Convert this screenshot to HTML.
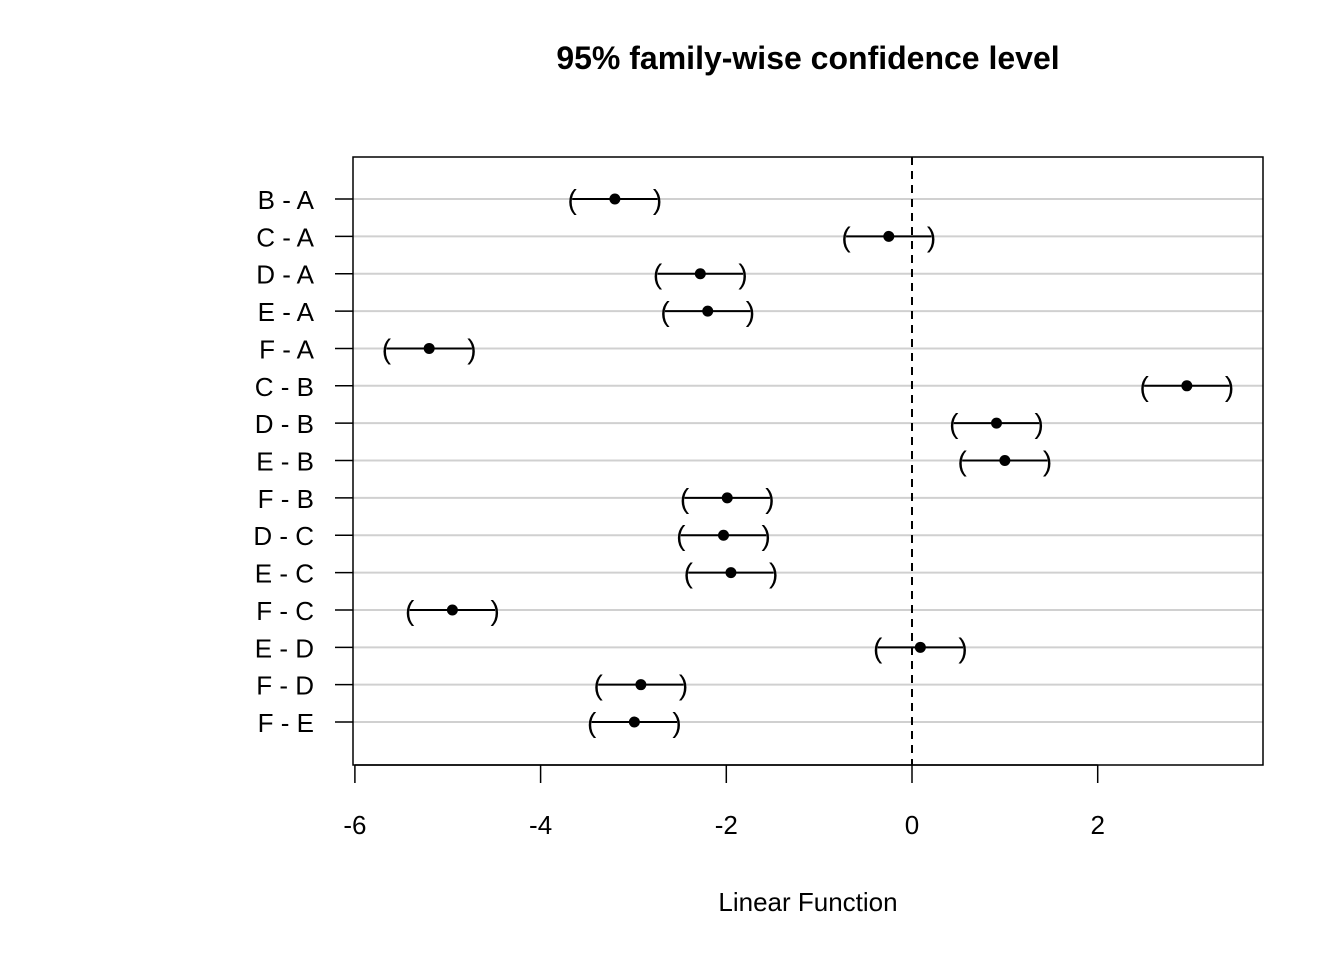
<!DOCTYPE html>
<html><head><meta charset="utf-8"><style>
body{margin:0;background:#fff}
svg text{font-family:"Liberation Sans",Arial,sans-serif;fill:#000}
</style></head><body>
<svg id="chart" width="1344" height="960" xmlns="http://www.w3.org/2000/svg">
<text x="808" y="69" text-anchor="middle" font-size="32" font-weight="bold">95% family-wise confidence level</text>
<g id="grid"></g>
<g id="marks"></g>
<rect x="353" y="157" width="910" height="608" fill="none" stroke="#000" stroke-width="1.5"/>
<g id="axes"></g>
<text x="808" y="911" text-anchor="middle" font-size="26">Linear Function</text>
</svg>
<script>
const categories=["B - A","C - A","D - A","E - A","F - A","C - B","D - B","E - B","F - B","D - C","E - C","F - C","E - D","F - D","F - E"];
const estimates=[-3.20,-0.25,-2.28,-2.20,-5.20,2.96,0.91,1.00,-1.99,-2.03,-1.95,-4.95,0.09,-2.92,-2.99];
const lowers=[-3.66,-0.71,-2.74,-2.66,-5.66,2.50,0.45,0.54,-2.45,-2.49,-2.41,-5.41,-0.37,-3.38,-3.45];
const uppers=[-2.74,0.21,-1.82,-1.74,-4.74,3.42,1.37,1.46,-1.53,-1.57,-1.49,-4.49,0.55,-2.46,-2.53];
const xTicks=[-6,-4,-2,0,2];
const NS="http://www.w3.org/2000/svg";
const xs=v=>912+v*92.85;
const ys=i=>199+i*37.36;
function mk(t,a,p){const e=document.createElementNS(NS,t);for(const k in a)e.setAttribute(k,a[k]);p.appendChild(e);return e;}
const grid=document.getElementById('grid'),marks=document.getElementById('marks'),axes=document.getElementById('axes');
categories.forEach((c,i)=>{
  const y=ys(i);
  const g=mk('line',{x1:353,x2:1263,y1:y,y2:y,stroke:'#d0d0d0','stroke-width':2},grid);
  
  
  const t=mk('line',{x1:335,x2:353,y1:y,y2:y,stroke:'#000','stroke-width':1.5},axes);
  
  
  const l=mk('text',{x:314,y:y+10,'text-anchor':'end','font-size':26},axes);l.textContent=c;
  
  
  const seg=mk('line',{x1:xs(lowers[i]),x2:xs(uppers[i]),y1:y,y2:y,stroke:'#000','stroke-width':2},marks);
  
  
  const lp=mk('text',{x:xs(lowers[i]),y:y+10,'text-anchor':'middle','font-size':28},marks);lp.textContent='(';
  
  
  const rp=mk('text',{x:xs(uppers[i]),y:y+10,'text-anchor':'middle','font-size':28},marks);rp.textContent=')';
  
  
  const d=mk('circle',{cx:xs(estimates[i]),cy:y,r:5.5,fill:'#000'},marks);
  
  
});
const zl=mk('line',{x1:xs(0),x2:xs(0),y1:157,y2:765,stroke:'#000','stroke-width':2,'stroke-dasharray':'8,6'},marks);


const ax=mk('line',{x1:xs(-6),x2:xs(2),y1:765,y2:765,stroke:'#000','stroke-width':1.5},axes);


xTicks.forEach(v=>{
  const t=mk('line',{x1:xs(v),x2:xs(v),y1:765,y2:783,stroke:'#000','stroke-width':1.5},axes);
  
  
  const l=mk('text',{x:xs(v),y:834,'text-anchor':'middle','font-size':26},axes);l.textContent=String(v);
  
  
});
</script>
</body></html>
